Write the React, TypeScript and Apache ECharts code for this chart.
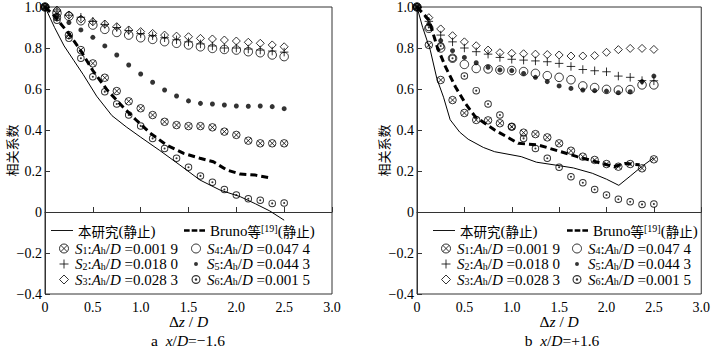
import React, { useEffect, useRef } from 'react';
import * as echarts from 'echarts';

const SERIF = "'Liberation Serif', 'DejaVu Serif', serif";
const CJK = "'Noto Sans CJK SC', 'Noto Sans', sans-serif";

// Δz/D positions of the measured points
const dz = [0, 0.125, 0.25, 0.375, 0.5, 0.625, 0.75, 0.875, 1.0, 1.125, 1.25, 1.375, 1.5, 1.625, 1.75, 1.875, 2.0, 2.125, 2.25, 2.375, 2.5];

// panel a: x/D = -1.6
const leftS1 = [1, 0.95, 0.863, 0.79, 0.725, 0.655, 0.59, 0.54, 0.506, 0.473, 0.44, 0.424, 0.419, 0.419, 0.413, 0.392, 0.376, 0.348, 0.335, 0.335, 0.335];
const leftS2 = [1, 0.98, 0.96, 0.95, 0.93, 0.915, 0.9, 0.885, 0.87, 0.86, 0.85, 0.84, 0.83, 0.82, 0.81, 0.8, 0.8, 0.795, 0.79, 0.785, 0.78];
const leftS3 = [1, 0.985, 0.961, 0.941, 0.928, 0.917, 0.904, 0.888, 0.88, 0.871, 0.863, 0.858, 0.855, 0.847, 0.844, 0.839, 0.834, 0.828, 0.823, 0.815, 0.806];
const leftS4 = [1, 0.97, 0.955, 0.933, 0.912, 0.891, 0.876, 0.863, 0.85, 0.842, 0.831, 0.823, 0.815, 0.806, 0.798, 0.793, 0.79, 0.782, 0.777, 0.766, 0.758];
const leftS5 = [1, 0.961, 0.924, 0.888, 0.852, 0.81, 0.766, 0.717, 0.673, 0.633, 0.595, 0.566, 0.542, 0.53, 0.527, 0.522, 0.517, 0.516, 0.517, 0.514, 0.504];
const leftS6 = [1, 0.935, 0.847, 0.75, 0.66, 0.587, 0.527, 0.473, 0.42, 0.359, 0.31, 0.262, 0.218, 0.176, 0.145, 0.11, 0.083, 0.065, 0.057, 0.042, 0.044];
const leftOursX = [0, 0.1, 0.2, 0.3, 0.4, 0.54, 0.7, 0.85, 1.0, 1.2, 1.41, 1.62, 1.83, 2.04, 2.2, 2.35, 2.5];
const leftOursY = [1, 0.9, 0.81, 0.74, 0.67, 0.565, 0.47, 0.415, 0.365, 0.3, 0.229, 0.156, 0.107, 0.075, 0.04, 0.005, -0.04];
const leftBrunoX = [0, 0.09, 0.25, 0.37, 0.5, 0.65, 0.82, 0.95, 1.1, 1.27, 1.45, 1.62, 1.76, 1.9, 2.04, 2.2, 2.37];
const leftBrunoY = [1, 0.96, 0.87, 0.79, 0.69, 0.595, 0.51, 0.45, 0.385, 0.327, 0.286, 0.262, 0.245, 0.205, 0.185, 0.18, 0.165];

// panel b: x/D = +1.6
const rightS1 = [1, 0.815, 0.644, 0.546, 0.483, 0.449, 0.447, 0.433, 0.416, 0.387, 0.38, 0.364, 0.335, 0.299, 0.27, 0.254, 0.234, 0.221, 0.234, 0.213, 0.257];
const rightS2 = [1, 0.93, 0.863, 0.83, 0.8, 0.782, 0.77, 0.754, 0.745, 0.741, 0.737, 0.733, 0.725, 0.71, 0.695, 0.689, 0.684, 0.663, 0.657, 0.641, 0.64];
const rightS3 = [1, 0.948, 0.893, 0.86, 0.83, 0.811, 0.79, 0.777, 0.774, 0.772, 0.77, 0.768, 0.766, 0.761, 0.761, 0.763, 0.779, 0.792, 0.798, 0.798, 0.793];
const rightS4 = [1, 0.896, 0.8, 0.75, 0.72, 0.7, 0.698, 0.693, 0.69, 0.685, 0.676, 0.665, 0.657, 0.645, 0.615, 0.607, 0.598, 0.595, 0.597, 0.62, 0.62];
const rightS5 = [1, 0.917, 0.836, 0.787, 0.754, 0.728, 0.706, 0.693, 0.69, 0.676, 0.657, 0.636, 0.615, 0.603, 0.595, 0.592, 0.59, 0.582, 0.587, 0.636, 0.663];
const rightS6 = [1, 0.9, 0.81, 0.75, 0.663, 0.592, 0.527, 0.473, 0.416, 0.359, 0.31, 0.262, 0.218, 0.172, 0.143, 0.11, 0.083, 0.062, 0.05, 0.037, 0.039];
const rightOursX = [0, 0.06, 0.14, 0.21, 0.28, 0.35, 0.45, 0.54, 0.7, 0.82, 1.1, 1.26, 1.46, 1.65, 1.85, 2.0, 2.13, 2.25, 2.37, 2.5];
const rightOursY = [1, 0.9, 0.79, 0.65, 0.56, 0.45, 0.39, 0.355, 0.315, 0.294, 0.27, 0.243, 0.229, 0.215, 0.189, 0.16, 0.13, 0.175, 0.221, 0.265];
const rightBrunoX = [0, 0.126, 0.213, 0.3, 0.405, 0.51, 0.614, 0.82, 1.07, 1.28, 1.52, 1.69, 1.82, 1.95, 2.08, 2.2, 2.35];
const rightBrunoY = [1, 0.937, 0.806, 0.709, 0.611, 0.53, 0.465, 0.4, 0.335, 0.327, 0.294, 0.27, 0.254, 0.237, 0.221, 0.237, 0.23];

// legend texts
const sampleNames = ['S1', 'S2', 'S3', 'S4', 'S5', 'S6'];
const sampleIndex = ['1', '2', '3', '4', '5', '6'];
const sampleRatio = ['0.001 9', '0.018 0', '0.028 3', '0.047 4', '0.044 3', '0.001 5'];
const panelCaptions = ['{m|a  }{mi|x}{m|/}{mi|D}{m|=−1.6}', '{m|b  }{mi|x}{m|/}{mi|D}{m|=+1.6}'];
const xTicks = { min: 0, max: 3, interval: 0.5 };
const yTicks = { min: -0.4, max: 1.0, interval: 0.2 };

const SYM_OTIMES = 'path://M0,10A10,10,0,1,1,20,10A10,10,0,1,1,0,10Z M2.93,2.93L17.07,17.07 M17.07,2.93L2.93,17.07';
const SYM_PLUS = 'path://M10,0L10,20M0,10L20,10';
const SYM_DIAMOND = 'path://M10,0L20,10L10,20L0,10Z';
const SYM_ODOT = 'path://M0,10A10,10,0,1,1,20,10A10,10,0,1,1,0,10Z M2.6,10A7.4,7.4,0,1,0,17.4,10A7.4,7.4,0,1,0,2.6,10Z M7.2,10A2.8,2.8,0,1,1,12.8,10A2.8,2.8,0,1,1,7.2,10Z';
const ICON_DOT = 'path://M0,0L20,20Z M5.6,10A4.4,4.4,0,1,1,14.4,10A4.4,4.4,0,1,1,5.6,10Z';
const ICON_LINE = 'path://M0,0L24,0L24,1L0,1Z';
const ICON_DASH = 'path://M0,0L7,0L7,3L0,3Z M9.5,0L16.5,0L16.5,3L9.5,3Z M19,0L26,0L26,3L19,3Z';

const rich: any = {
  n: { fontFamily: SERIF, fontSize: 15, color: '#000', lineHeight: 14 },
  i: { fontFamily: SERIF, fontSize: 15, fontStyle: 'italic', color: '#000', lineHeight: 14 },
  sub: { fontFamily: SERIF, fontSize: 10, color: '#000', lineHeight: 6, verticalAlign: 'bottom' },
  sup: { fontFamily: SERIF, fontSize: 10, color: '#000', lineHeight: 6, verticalAlign: 'top' },
  c: { fontFamily: CJK, fontSize: 13.5, color: '#000', lineHeight: 14 },
  m: { fontFamily: SERIF, fontSize: 15.5, color: '#000', lineHeight: 13 },
  mi: { fontFamily: SERIF, fontSize: 15.5, fontStyle: 'italic', color: '#000', lineHeight: 13 },
};

function legendText(name: string) {
  if (name === 'ours') return '{c|本研究}{n|(}{c|静止}{n|)}';
  if (name === 'bruno') return '{n|Bruno}{c|等}{sup|[19]}{n|(}{c|静止}{n|)}';
  const k = sampleNames.indexOf(name);
  return `{i|S}{sub|${sampleIndex[k]}}{n|:}{i|A}{sub|h}{n|/}{i|D}{n| =${sampleRatio[k]}}`;
}

const fmt = (v: number) => (Math.abs(v) < 1e-9 ? '0' : v.toFixed(1).replace('-', '−'));

const hollow = { color: 'rgba(0,0,0,0)', borderColor: '#000', borderWidth: 1 };

function panelSeries(p: number, s: number[][], ours: number[][], bruno: number[][]) {
  const pts = (ys: number[]) => dz.map((x, i) => [x, ys[i]]);
  const base = { type: 'scatter', xAxisIndex: p, yAxisIndex: p, silent: true };
  return [
    { type: 'line', name: 'ours', xAxisIndex: p, yAxisIndex: p, silent: true, symbol: 'none',
      data: ours[0].map((x, i) => [x, ours[1][i]]), lineStyle: { color: '#000', width: 1 }, itemStyle: { color: '#000' } },
    { type: 'line', name: 'bruno', xAxisIndex: p, yAxisIndex: p, silent: true, symbol: 'none',
      data: bruno[0].map((x, i) => [x, bruno[1][i]]), lineStyle: { color: '#000', width: 3, type: [7, 4] }, itemStyle: { color: '#000' } },
    { ...base, name: 'S1', data: pts(s[0]), symbol: SYM_OTIMES, symbolSize: 7.5, itemStyle: hollow },
    { ...base, name: 'S2', data: pts(s[1]), symbol: SYM_PLUS, symbolSize: 8.5, itemStyle: hollow },
    { ...base, name: 'S3', data: pts(s[2]), symbol: SYM_DIAMOND, symbolSize: 8, itemStyle: hollow },
    { ...base, name: 'S4', data: pts(s[3]), symbol: 'circle', symbolSize: 8.5, itemStyle: hollow },
    { ...base, name: 'S5', data: pts(s[4]), symbol: 'circle', symbolSize: 5, itemStyle: { color: '#000', borderWidth: 0 } },
    { ...base, name: 'S6', data: pts(s[5]), symbol: SYM_ODOT, symbolSize: 7.5, itemStyle: { color: '#000', borderWidth: 0, borderColor: 'rgba(0,0,0,0)' } },
  ];
}

function panelLegends(oursLeft: number, brunoLeft: number, col1Left: number, col2Left: number) {
  const common = {
    padding: 0, itemGap: 0.5, orient: 'vertical', selectedMode: false,
    textStyle: { rich, fontFamily: SERIF, fontSize: 15, color: '#000' },
    formatter: legendText, itemStyle: { borderWidth: 1 }, symbolKeepAspect: true,
  };
  return [
    { ...common, left: oursLeft, top: 223, itemWidth: 22, itemHeight: 9,
      data: [{ name: 'ours', icon: ICON_LINE, itemStyle: { color: '#000', borderWidth: 0 } }] },
    { ...common, left: brunoLeft, top: 223, itemWidth: 21, itemHeight: 9,
      data: [{ name: 'bruno', icon: ICON_DASH, itemStyle: { color: '#000', borderWidth: 0 } }] },
    { ...common, left: col1Left, top: 241, itemWidth: 12, itemHeight: 9, data: ['S1', 'S2', 'S3'] },
    { ...common, left: col2Left, top: 241, itemWidth: 12, itemHeight: 9,
      data: ['S4', { name: 'S5', icon: ICON_DOT, itemStyle: { color: '#000', borderWidth: 0 } }, { name: 'S6', itemStyle: { borderWidth: 0 } }] },
  ];
}

function xAxisOf(p: number) {
  return {
    type: 'value', gridIndex: p, ...xTicks,
    name: '{m|Δ}{mi|z}{m| / }{mi|D}', nameLocation: 'middle', nameGap: 21, nameMoveOverlap: false,
    nameTextStyle: { rich },
    axisLine: { show: true, lineStyle: { color: '#333', width: 1 } },
    axisTick: { show: true, inside: true, length: 5, lineStyle: { color: '#333' } },
    axisLabel: { formatter: fmt, fontFamily: SERIF, fontSize: 14, color: '#000', margin: 6 },
    splitLine: { show: false },
  };
}

function yAxisOf(p: number) {
  return {
    type: 'value', gridIndex: p, ...yTicks,
    name: '相关系数', nameLocation: 'middle', nameGap: 27, nameRotate: 90, nameMoveOverlap: false,
    nameTextStyle: { fontFamily: CJK, fontSize: 13, color: '#000' },
    axisLine: { show: true, lineStyle: { color: '#333', width: 1 } },
    axisTick: { show: true, inside: true, length: 5, lineStyle: { color: '#333' } },
    axisLabel: { formatter: fmt, fontFamily: SERIF, fontSize: 14, color: '#000', margin: 3 },
    splitLine: { show: false },
  };
}

export default function App() {
  const ref = useRef<HTMLDivElement>(null);
  useEffect(() => {
    const chart = echarts.init(ref.current!, undefined, { renderer: 'svg' });
    const option: any = {
      animation: false,
      backgroundColor: '#fff',
      grid: [
        { left: 45, top: 7, width: 287, height: 287, show: true, borderColor: '#333', borderWidth: 1 },
        { left: 417, top: 7, width: 286, height: 287, show: true, borderColor: '#333', borderWidth: 1 },
      ],
      xAxis: [xAxisOf(0), xAxisOf(1)],
      yAxis: [yAxisOf(0), yAxisOf(1)],
      legend: [...panelLegends(51, 184, 59, 191), ...panelLegends(433, 567, 441, 572)],
      series: [
        ...panelSeries(0, [leftS1, leftS2, leftS3, leftS4, leftS5, leftS6], [leftOursX, leftOursY], [leftBrunoX, leftBrunoY]),
        ...panelSeries(1, [rightS1, rightS2, rightS3, rightS4, rightS5, rightS6], [rightOursX, rightOursY], [rightBrunoX, rightBrunoY]),
      ],
      graphic: [
        { type: 'text', x: 188, y: 340, style: { text: panelCaptions[0], rich, align: 'center', verticalAlign: 'middle' } },
        { type: 'text', x: 562, y: 340, style: { text: panelCaptions[1], rich, align: 'center', verticalAlign: 'middle' } },
      ],
    };
    chart.setOption(option);
    return () => chart.dispose();
  }, []);
  return <div ref={ref} style={{ position: 'fixed', left: 0, top: 0, width: 713, height: 350, background: '#fff' }} />;
}
